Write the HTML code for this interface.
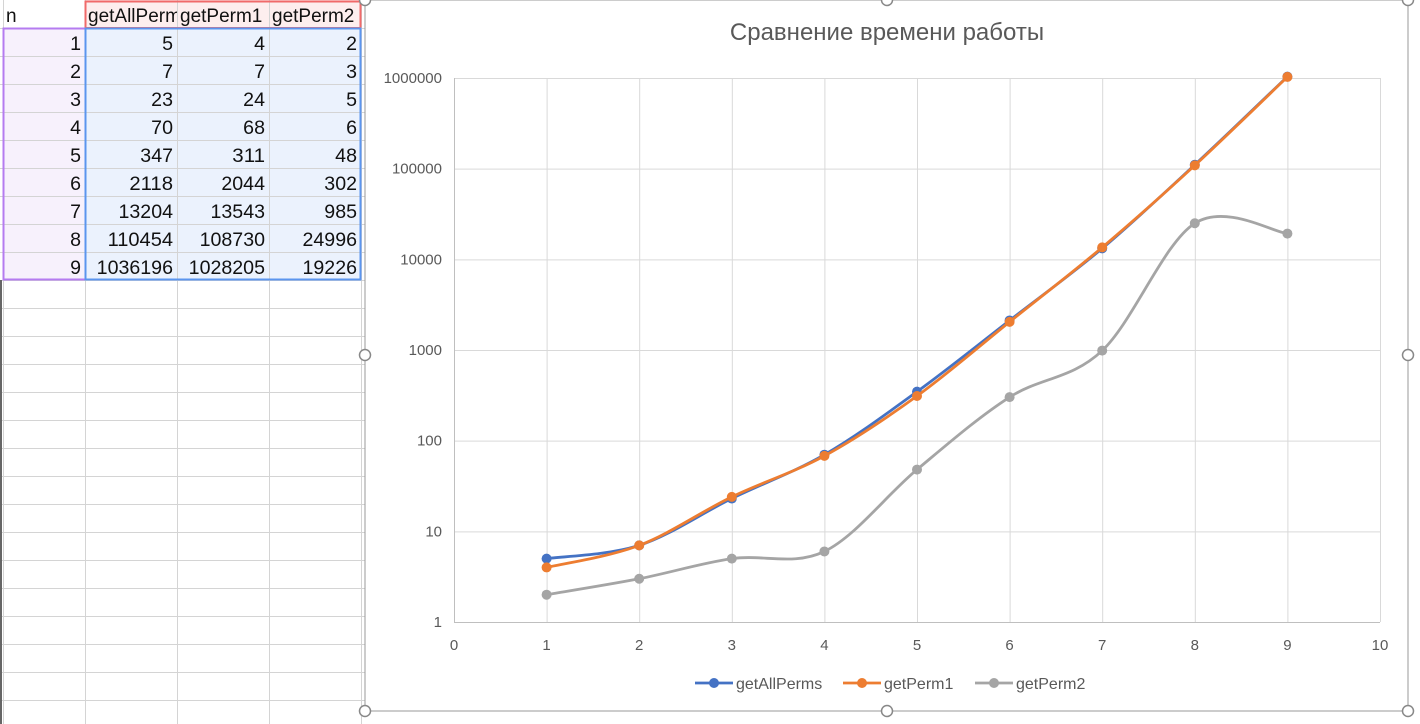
<!DOCTYPE html>
<html><head><meta charset="utf-8">
<style>
body{margin:0;width:1420px;height:724px;overflow:hidden;background:#fff;font-family:"Liberation Sans","Noto Sans CJK SC",sans-serif;position:relative}
#sheet{position:absolute;left:0;top:0}
#chart{position:absolute;left:0;top:0}
</style></head>
<body>
<svg id="sheet" width="1420" height="724"></svg>
<svg id="chart" width="1420" height="724"></svg>
<script>
const ns="http://www.w3.org/2000/svg";
const nVals=[1,2,3,4,5,6,7,8,9];
const headers=["n","getAllPerms","getPerm1","getPerm2"];
const allPerms=[5,7,23,70,347,2118,13204,110454,1036196];
const perm1=[4,7,24,68,311,2044,13543,108730,1028205];
const perm2=[2,3,5,6,48,302,985,24996,19226];
const yTicks=[1,10,100,1000,10000,100000,1000000];
const xTicks=[0,1,2,3,4,5,6,7,8,9,10];
function mk(p,t,a,txt){const e=document.createElementNS(ns,t);for(const k in a)e.setAttribute(k,a[k]);if(txt!==undefined)e.textContent=txt;p.appendChild(e);return e;}
// spreadsheet
const S=document.getElementById('sheet');
const colX=[3,85,177,269,361];
const defs=mk(S,'defs',{});
for(let i=0;i<4;i++){const cp=mk(defs,'clipPath',{id:'c'+i});mk(cp,'rect',{x:colX[i],y:0,width:colX[i+1]-colX[i],height:28});}
mk(S,'rect',{x:3,y:28,width:82,height:252,fill:'#f7f1fc'});
mk(S,'rect',{x:85,y:28,width:276,height:252,fill:'#ebf2fd'});
mk(S,'rect',{x:85,y:0,width:276,height:28,fill:'#fdeeee'});
for(let y=28;y<724;y+=28){mk(S,'line',{x1:0,x2:365,y1:y+0.5,y2:y+0.5,stroke:'#d4d4d4'});}
colX.forEach(x=>mk(S,'line',{x1:x+0.5,x2:x+0.5,y1:0,y2:724,stroke:'#d4d4d4'}));
mk(S,'rect',{x:0,y:280,width:2,height:444,fill:'#666'});
const hdr=mk(S,'g',{});

headers.forEach((h,i)=>{mk(hdr,'text',{x:colX[i]+3,y:22,'font-size':19,fill:'#111','clip-path':'url(#c'+i+')'},h);});
for(let r=0;r<nVals.length;r++){
  const g=mk(S,'g',{});
  
  const y=28*(r+1)+22;
  [nVals[r],allPerms[r],perm1[r],perm2[r]].forEach((v,i)=>mk(g,'text',{x:colX[i+1]-4,y:y,'font-size':19,fill:'#111','text-anchor':'end','textLength':String(v).length*10.9,'lengthAdjust':'spacingAndGlyphs'},v));
}
mk(S,'rect',{x:85.5,y:1.5,width:275,height:26.5,fill:'none',stroke:'#f06a6a','stroke-width':2});
mk(S,'rect',{x:3.5,y:28.5,width:82,height:251,fill:'none',stroke:'#b57cf0','stroke-width':2});
mk(S,'rect',{x:85.5,y:28.5,width:275,height:251,fill:'none',stroke:'#5b95ee','stroke-width':2});
// chart
const C=document.getElementById('chart');
mk(C,'rect',{x:365,y:0,width:1043,height:711,fill:'#fff',stroke:'#999','stroke-width':1});
const X0=454,X1=1380,Yb=622,Yt=78;
const xs=v=>X0+(X1-X0)*v/10;
const ys=v=>Yb-(Yb-Yt)*Math.log10(v)/6;
const title=mk(C,'text',{x:887,y:40,'font-size':24,fill:'#595959','text-anchor':'middle'},'Сравнение времени работы');

xTicks.forEach(t=>{mk(C,'line',{x1:xs(t)+0.5,x2:xs(t)+0.5,y1:Yt,y2:Yb,stroke:'#d9d9d9'});
 const l=mk(C,'text',{x:xs(t),y:650,'font-size':15,fill:'#595959','text-anchor':'middle'},t);});
yTicks.forEach(t=>{mk(C,'line',{x1:X0,x2:X1,y1:ys(t)+0.5,y2:ys(t)+0.5,stroke:'#d9d9d9'});
 const l=mk(C,'text',{x:442,y:ys(t)+5,'font-size':15,fill:'#595959','text-anchor':'end'},t);});
mk(C,'line',{x1:X0,x2:X1,y1:Yb+0.5,y2:Yb+0.5,stroke:'#bfbfbf'});
mk(C,'line',{x1:X0+0.5,x2:X0+0.5,y1:Yt,y2:Yb,stroke:'#bfbfbf'});
function smooth(pts){let d=`M${pts[0][0]},${pts[0][1]}`;
 for(let i=0;i<pts.length-1;i++){const p0=pts[i-1]||pts[i],p1=pts[i],p2=pts[i+1],p3=pts[i+2]||p2;const k=1/6;
  d+=` C${p1[0]+(p2[0]-p0[0])*k},${p1[1]+(p2[1]-p0[1])*k} ${p2[0]-(p3[0]-p1[0])*k},${p2[1]-(p3[1]-p1[1])*k} ${p2[0]},${p2[1]}`;}return d;}
const series=[[perm2,'#a5a5a5','series-getPerm2'],[allPerms,'#4472c4','series-getAllPerms'],[perm1,'#ed7d31','series-getPerm1']];
series.forEach(([vals,col,name])=>{const g=mk(C,'g',{});
 const pts=vals.map((v,i)=>[xs(nVals[i]),ys(v)]);
 mk(g,'path',{d:smooth(pts),fill:'none',stroke:col,'stroke-width':2.8});
 pts.forEach(p=>{const c=mk(g,'circle',{cx:p[0],cy:p[1],r:5,fill:col});});});
const leg=[['getAllPerms','#4472c4',695],['getPerm1','#ed7d31',843],['getPerm2','#a5a5a5',975]];
leg.forEach(([n,c,x])=>{const g=mk(C,'g',{});
 mk(g,'line',{x1:x,x2:x+38,y1:683,y2:683,stroke:c,'stroke-width':2.8});mk(g,'circle',{cx:x+19,cy:683,r:5,fill:c});
 mk(g,'text',{x:x+41,y:689,'font-size':16,fill:'#595959'},n);});
[[365,0],[887,0],[1408,0],[365,355],[1408,355],[365,711],[887,711],[1408,711]].forEach(([x,y])=>{const h=mk(C,'circle',{cx:x,cy:y,r:5.5,fill:'#fff',stroke:'#888','stroke-width':1.5});});
</script>
</body></html>
